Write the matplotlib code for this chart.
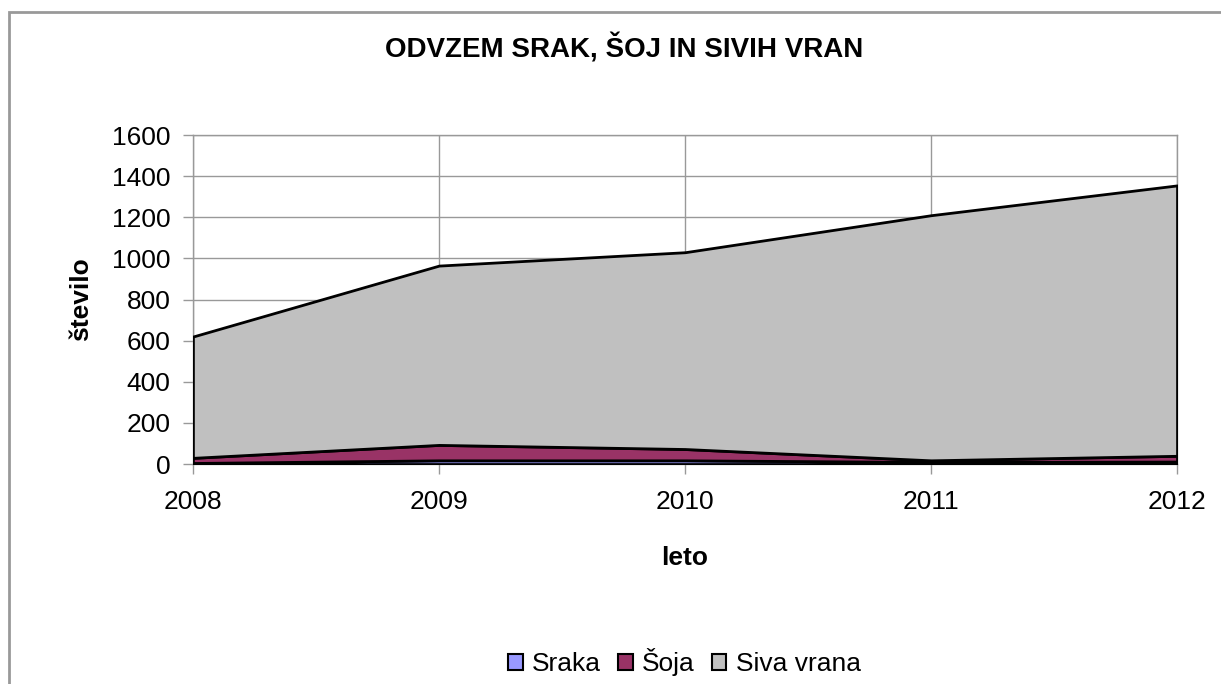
import matplotlib.pyplot as plt
from matplotlib.patches import Rectangle

plt.rcParams['font.family'] = ['Liberation Sans', 'DejaVu Sans']

years = [2008, 2009, 2010, 2011, 2012]
sraka = [5, 18, 18, 10, 12]
soja = [25, 75, 55, 8, 28]
siva_vrana = [590, 872, 957, 1192, 1315]

labels = ['Sraka', 'Šoja', 'Siva vrana']
colors = ['#9999FF', '#993366', '#C0C0C0']

fig = plt.figure(figsize=(12.21, 6.84), dpi=100)
ax = fig.add_axes([0.158, 0.3216, 0.806, 0.481])

# outer chart frame (runs off the right and bottom edge)
fig.patches.append(Rectangle((9 / 1221, -0.1), 1.2, 1 - 12 / 684 + 0.1,
                             transform=fig.transFigure, fill=False,
                             edgecolor='#999999', linewidth=2))

polys = ax.stackplot(years, sraka, soja, siva_vrana, colors=colors,
                     labels=labels, edgecolor='black', linewidth=2, zorder=3)

ax.set_xlim(2008, 2012)
ax.set_ylim(0, 1600)
ax.set_xticks(years)
ax.set_yticks(range(0, 1601, 200))
ax.grid(True, color='#999999', linewidth=1, zorder=0)
for s in ax.spines.values():
    s.set_color('#999999')
    s.set_linewidth(1)
ax.tick_params(colors='#999999', labelcolor='black', labelsize=19,
               length=7, width=1)
ax.tick_params(axis='y', pad=9)
ax.tick_params(axis='x', pad=12)

ax.set_xlabel('leto', fontsize=19, fontweight='bold', labelpad=23)
ax.set_ylabel('število', fontsize=19, fontweight='bold', labelpad=14)
fig.text(0.511, 1 - 48 / 684, 'ODVZEM SRAK, ŠOJ IN SIVIH VRAN',
         ha='center', va='center', fontsize=20, fontweight='bold')

leg = fig.legend(handles=polys, labels=labels, loc='center',
                 bbox_to_anchor=(0.5605, 1 - 662 / 684), ncol=3, frameon=False,
                 fontsize=19, handlelength=0.55, handleheight=0.55,
                 handletextpad=0.35, columnspacing=0.65)
for h in leg.legend_handles:
    h.set_linewidth(1.5)

fig.savefig('out.png', dpi=100)
